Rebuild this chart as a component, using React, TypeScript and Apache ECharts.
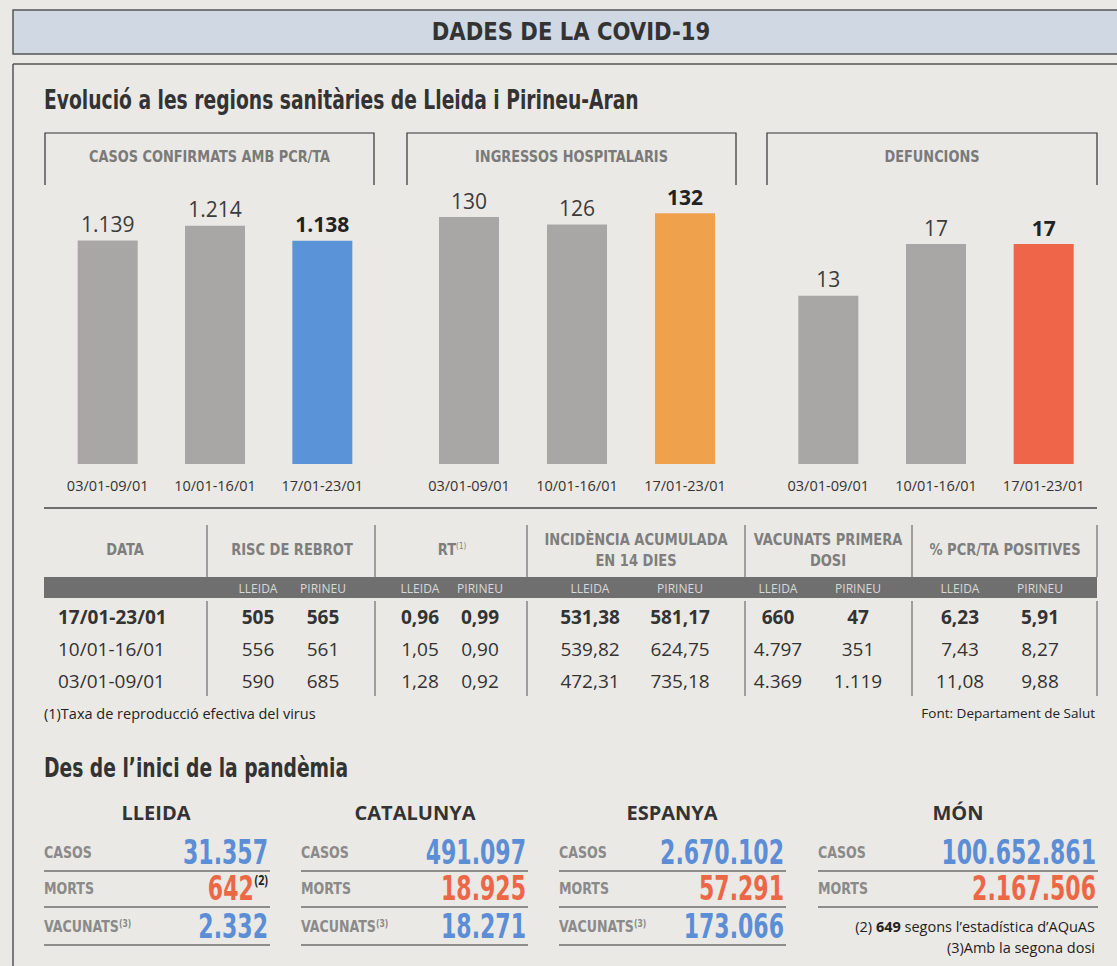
import React, { useEffect, useRef } from 'react';
import * as echarts from 'echarts';

// ---------- DATA ----------
const weeks = ['03/01-09/01', '10/01-16/01', '17/01-23/01'];
const casosConfirmats = [1139, 1214, 1138];
const ingressosHospitalaris = [130, 126, 132];
const defuncions = [13, 17, 17];
const panelTitles = ['CASOS CONFIRMATS AMB PCR/TA', 'INGRESSOS HOSPITALARIS', 'DEFUNCIONS'];

const tableHeaders = ['DATA', 'RISC DE REBROT', 'RT', 'INCIDÈNCIA ACUMULADA\nEN 14 DIES', 'VACUNATS PRIMERA\nDOSI', '% PCR/TA POSITIVES'];
const subHeaders = ['LLEIDA', 'PIRINEU'];
const tableDates = ['17/01-23/01', '10/01-16/01', '03/01-09/01'];
const riscLleida = ['505', '556', '590'];
const riscPirineu = ['565', '561', '685'];
const rtLleida = ['0,96', '1,05', '1,28'];
const rtPirineu = ['0,99', '0,90', '0,92'];
const incLleida = ['531,38', '539,82', '472,31'];
const incPirineu = ['581,17', '624,75', '735,18'];
const vacLleida = ['660', '4.797', '4.369'];
const vacPirineu = ['47', '351', '1.119'];
const pcrLleida = ['6,23', '7,43', '11,08'];
const pcrPirineu = ['5,91', '8,27', '9,88'];

const regions = ['LLEIDA', 'CATALUNYA', 'ESPANYA', 'MÓN'];
const rowLabels = ['CASOS', 'MORTS', 'VACUNATS'];
const totalCasos = ['31.357', '491.097', '2.670.102', '100.652.861'];
const totalMorts = ['642', '18.925', '57.291', '2.167.506'];
const totalVacunats = ['2.332', '18.271', '173.066', ''];

// ---------- STYLE ----------
const COND = "'Liberation Sans Narrow', 'DejaVu Sans Condensed', 'Roboto', sans-serif";
const REG = "'Open Sans', 'Noto Sans', sans-serif";
const GRAY_BAR = '#a9a7a5';
const HIGHLIGHT = ['#5b93d8', '#f0a14c', '#ee6549'];
const BLUE = '#5b8ed6';
const RED = '#ec6746';
const INK = '#2e2e2e';

const fmt = (v: number) => String(v).replace(/\B(?=(\d{3})+(?!\d))/g, '.');

export default function App() {
  const ref = useRef<HTMLDivElement>(null);
  useEffect(() => {
    if (!ref.current) return;
    const chart = echarts.init(ref.current, undefined, { renderer: 'svg' });

    const seriesData = [casosConfirmats, ingressosHospitalaris, defuncions];
    const maxes = [1549, 160, 23.5];
    const grids = [
      { left: 54, width: 322, top: 160, height: 304 },
      { left: 415, width: 324, top: 160, height: 304 },
      { left: 774.5, width: 323, top: 160, height: 304 },
    ];

    const g: any[] = [];
    const text = (x: number, y: number, t: string, o: any = {}, sx = 1) =>
      g.push({ type: 'text', x, y, scaleX: sx, z: 10, silent: true, style: { text: t, x: 0, y: 0, fill: INK, fontFamily: REG, fontSize: 14, align: 'left', verticalAlign: 'middle', ...o } });
    const line = (x1: number, y1: number, x2: number, y2: number, stroke = '#333', lw = 1.2) =>
      g.push({ type: 'line', z: 5, silent: true, shape: { x1, y1, x2, y2 }, style: { stroke, lineWidth: lw } });

    // banner
    g.push({ type: 'rect', z: 1, shape: { x: 13, y: 10, width: 1112, height: 44 }, style: { fill: '#cfd8e3', stroke: '#555', lineWidth: 1.5 } });
    text(571, 32, 'DADES DE LA COVID-19', { fontFamily: COND, fontWeight: 'bold', fontSize: 24, align: 'center', fill: '#333' }, 0.98);
    // outer frame
    line(13, 64, 1125, 64, '#555', 1.5);
    line(13, 64, 13, 966, '#555', 1.5);

    text(44, 100, 'Evolució a les regions sanitàries de Lleida i Pirineu-Aran', { fontFamily: COND, fontWeight: 'bold', fontSize: 26, fill: '#333' }, 0.8);

    // panel boxes
    const boxes = [[45, 374], [407, 736], [767, 1097]];
    boxes.forEach(([l, r], i) => {
      g.push({ type: 'polyline', z: 5, shape: { points: [[l, 185], [l, 133], [r, 133], [r, 185]] }, style: { stroke: '#333', lineWidth: 1.2, fill: 'none' } });
      text((l + r) / 2, 157, panelTitles[i], { fontFamily: COND, fontWeight: 'bold', fontSize: 16.5, align: 'center', fill: '#7a7a7a' }, 0.87);
    });

    // table
    line(44, 508, 1097, 508, '#444', 1.5);
    const seps = [207, 375, 527, 745, 912, 1097];
    seps.forEach((x) => { line(x, 525, x, 577, '#555', 1); line(x, 601, x, 696, '#555', 1); });
    const headCenters = [125, 292, 452, 636, 828, 1005];
    tableHeaders.forEach((h, i) => {
      const parts = h.split('\n');
      const hs = { fontFamily: COND, fontWeight: 'bold', fontSize: 16.5, align: 'center', fill: '#7e7e7e' };
      const hsx = 0.88;
      if (i === 2) {
        text(headCenters[i], 550, '{a|RT}{s|(1)}', { ...hs, rich: { a: { ...hs }, s: { fontFamily: COND, fontSize: 9, fill: '#7e7e7e', verticalAlign: 'top', padding: [0, 0, 6, 0] } } }, hsx);
      } else if (parts.length === 2) {
        text(headCenters[i], 540, parts[0], hs, hsx);
        text(headCenters[i], 561, parts[1], hs, hsx);
      } else text(headCenters[i], 550, h, hs, hsx);
    });
    g.push({ type: 'rect', z: 3, shape: { x: 44, y: 577, width: 1053, height: 21 }, style: { fill: '#6f6f6f' } });
    const subCenters = [[258, 323], [420, 480], [590, 680], [778, 858], [960, 1040]];
    subCenters.forEach((pair) => pair.forEach((x, k) => text(x, 588, subHeaders[k], { fontSize: 12, align: 'center', fill: '#d9d9d9' })));
    const cols = [[riscLleida, riscPirineu], [rtLleida, rtPirineu], [incLleida, incPirineu], [vacLleida, vacPirineu], [pcrLleida, pcrPirineu]];
    const rowY = [617, 649, 681];
    tableDates.forEach((d, r) => {
      const bold = r === 0 ? { fontWeight: 'bold', fill: '#333' } : { fill: '#333' };
      text(58, rowY[r], d, { fontSize: 19, ...bold });
      cols.forEach((pair, c) => pair.forEach((arr, k) => text(subCenters[c][k], rowY[r], arr[r], { fontSize: 19, align: 'center', ...bold })));
    });
    text(44, 713, '(1)Taxa de reproducció efectiva del virus', { fontSize: 14.5, fill: '#222' });
    text(1095, 713, 'Font: Departament de Salut', { fontSize: 13.5, align: 'right', fill: '#222' });

    // totals section
    text(44, 768, 'Des de l\u2019inici de la pandèmia', { fontFamily: COND, fontWeight: 'bold', fontSize: 26, fill: '#333' }, 0.8);
    const colLeft = [44, 301, 559, 818];
    const colRight = [268, 526, 784, 1096];
    const regCenters = [156, 415, 672, 958];
    const ry = [853, 889, 927];
    const uy = [871, 907, 945];
    const labStyle = { fontFamily: COND, fontWeight: 'bold', fontSize: 16.5, fill: '#8a8a8a' };
    const labSx = 0.85;
    const valSx = 0.72;
    regions.forEach((reg, i) => {
      text(regCenters[i], 812, reg, { fontWeight: 'bold', fontSize: 20, align: 'center', fill: '#333' });
      const vals = [totalCasos[i], totalMorts[i], totalVacunats[i]];
      vals.forEach((v, r) => {
        if (!v) return;
        const vStyle = { fontFamily: COND, fontWeight: 'bold', fontSize: 34, fill: r === 1 ? RED : BLUE };
        if (r === 2) {
          text(colLeft[i], ry[r], '{a|' + rowLabels[r] + '}{s|(3)}', { ...labStyle, rich: { a: { ...labStyle }, s: { fontFamily: COND, fontWeight: 'bold', fontSize: 10, fill: '#8a8a8a', verticalAlign: 'top', padding: [0, 0, 7, 0] } } }, labSx);
        } else text(colLeft[i], ry[r], rowLabels[r], labStyle, labSx);
        if (i === 0 && r === 1) {
          text(colRight[i], ry[r], '{v|' + v + '}{s|(2)}', { ...vStyle, align: 'right', rich: { v: { ...vStyle }, s: { fontFamily: REG, fontWeight: 'bold', fontSize: 15, fill: '#222', verticalAlign: 'top', padding: [0, 0, 14, 1] } } }, valSx);
        } else text(colRight[i], ry[r], v, { ...vStyle, align: 'right' }, valSx);
        line(colLeft[i], uy[r], colRight[i] + 2, uy[r], '#333', 1.2);
      });
    });
    text(1095, 926, '{a|(2) }{b|649}{a| segons l\u2019estadística d\u2019AQuAS}', { fontSize: 14.5, align: 'right', rich: { a: { fontFamily: REG, fontSize: 14.5, fill: '#222' }, b: { fontFamily: REG, fontSize: 14.5, fontWeight: 'bold', fill: '#222' } } });
    text(1095, 947, '(3)Amb la segona dosi', { fontSize: 14.5, align: 'right', fill: '#222' });

    const option: any = {
      animation: false,
      backgroundColor: '#ebe9e5',
      grid: grids,
      xAxis: grids.map((_, i) => ({
        type: 'category', gridIndex: i, data: weeks,
        axisLine: { show: false }, axisTick: { show: false },
        axisLabel: { fontFamily: REG, fontSize: 14.5, color: '#333', margin: 14 },
      })),
      yAxis: grids.map((_, i) => ({ type: 'value', gridIndex: i, min: 0, max: maxes[i], show: false, splitLine: { show: false } })),
      series: seriesData.map((arr, i) => ({
        type: 'bar', xAxisIndex: i, yAxisIndex: i, barWidth: 60,
        data: arr.map((v, k) => ({
          value: v,
          itemStyle: { color: k === arr.length - 1 ? HIGHLIGHT[i] : GRAY_BAR },
          label: k === arr.length - 1 ? { fontWeight: 'bold', color: '#222' } : {},
        })),
        label: { show: true, position: 'top', distance: 6, fontFamily: REG, fontSize: 21, color: '#3b3b3b', formatter: (p: any) => fmt(p.value) },
      })),
      graphic: g,
    };
    chart.setOption(option);
    return () => chart.dispose();
  }, []);
  return <div ref={ref} style={{ position: 'absolute', left: 0, top: 0, width: 1117, height: 966 }} />;
}
